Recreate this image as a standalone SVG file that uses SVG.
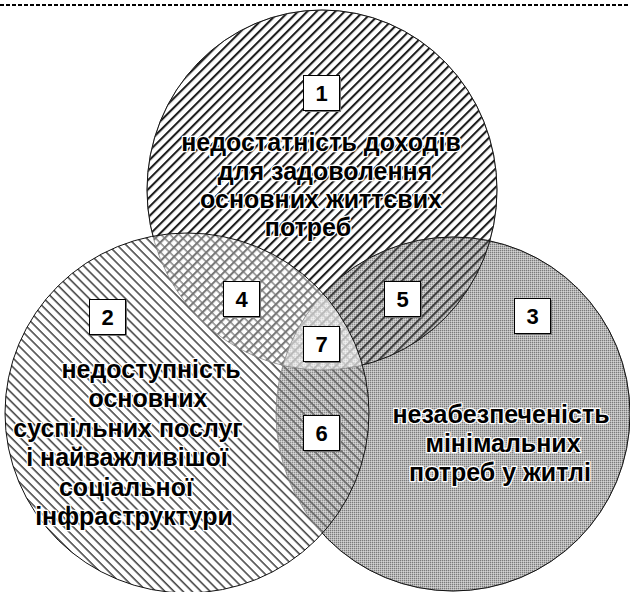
<svg xmlns="http://www.w3.org/2000/svg" width="630" height="592" viewBox="0 0 630 592">
  <defs>
    <pattern id="hatch1" patternUnits="userSpaceOnUse" width="10" height="6.6" patternTransform="rotate(-45)">
      <rect x="0" y="0" width="10" height="2.1" fill="#1e1e1e"/>
    </pattern>
    <pattern id="hatch2" patternUnits="userSpaceOnUse" width="10" height="6.4" patternTransform="rotate(45)">
      <rect x="0" y="0" width="10" height="1.6" fill="#4a4a4a"/>
    </pattern>
    <pattern id="dots3" patternUnits="userSpaceOnUse" width="2" height="2">
      <rect width="2" height="2" fill="#b6b6b6"/>
      <rect width="1" height="1" fill="#7a7a7a"/>
      <rect x="1" y="1" width="1" height="1" fill="#d2d2d2"/>
    </pattern>
    <clipPath id="c1"><ellipse cx="322" cy="190" rx="175" ry="180"/></clipPath>
    <clipPath id="c2"><ellipse cx="187" cy="413" rx="182" ry="180"/></clipPath>
    <mask id="not2" maskUnits="userSpaceOnUse" x="0" y="0" width="630" height="592">
      <rect width="630" height="592" fill="#fff"/>
      <ellipse cx="187" cy="413" rx="181" ry="179" fill="#000"/>
    </mask>
  </defs>
  <style>
    .outline { fill: none; stroke: #111; stroke-width: 1; }
    .inner { fill: none; stroke: #888; stroke-width: 0.8; }
    .box { fill: #fff; stroke: #000; stroke-width: 1; }
    .shadow { fill: #777; }
    .num { font-family: "Liberation Sans", Arial, sans-serif; font-weight: bold; font-size: 22px; text-anchor: middle; fill: #000; }
    .lbl { font-family: "Liberation Sans", Arial, sans-serif; font-weight: bold; font-size: 25px; text-anchor: middle; fill: #000; stroke: #fff; stroke-width: 2.6; stroke-linejoin: round; paint-order: stroke; }
  </style>
  <rect width="630" height="592" fill="#fff"/>
  <line x1="0" y1="5" x2="630" y2="5" stroke="#000" stroke-width="2" stroke-dasharray="4 2"/>

  <g id="circle3">
    <ellipse cx="453" cy="414" rx="177" ry="177" fill="url(#dots3)"/>
  </g>
  <g id="circle2">
    <ellipse cx="187" cy="413" rx="182" ry="180" fill="url(#hatch2)"/>
  </g>
  <g id="circle1">
    <ellipse cx="322" cy="190" rx="175" ry="180" fill="url(#hatch1)"/>
  </g>

  <g id="overlaps">
    <g clip-path="url(#c1)">
      <ellipse cx="187" cy="413" rx="182" ry="180" fill="#fff" opacity="0.4"/>
      <ellipse cx="453" cy="414" rx="177" ry="177" fill="#fff" opacity="0.15"/>
    </g>
    <g clip-path="url(#c2)">
      <ellipse cx="453" cy="414" rx="177" ry="177" fill="#fff" opacity="0.15"/>
    </g>
    <g clip-path="url(#c1)">
      <g clip-path="url(#c2)">
        <ellipse cx="453" cy="414" rx="177" ry="177" fill="#fff" opacity="0.3"/>
      </g>
    </g>
  </g>

  <g id="outlines">
    <ellipse class="inner" cx="322" cy="190" rx="175" ry="180"/>
    <ellipse class="inner" cx="453" cy="414" rx="177" ry="177"/>
    <g mask="url(#not2)">
      <ellipse class="outline" cx="322" cy="190" rx="175" ry="180"/>
      <ellipse class="outline" cx="453" cy="414" rx="177" ry="177"/>
    </g>
    <ellipse class="outline" cx="187" cy="413" rx="182" ry="180"/>
  </g>

  <g id="label1">
    <text class="lbl" x="321" y="151">недостатність доходів</text>
    <text class="lbl" x="325" y="180">для задоволення</text>
    <text class="lbl" x="321" y="208">основних життєвих</text>
    <text class="lbl" x="308" y="236">потреб</text>
  </g>
  <g id="label2">
    <text class="lbl" x="151" y="378">недоступність</text>
    <text class="lbl" x="148" y="407">основних</text>
    <text class="lbl" x="128" y="437">суспільних послуг</text>
    <text class="lbl" x="127" y="466">і найважливішої</text>
    <text class="lbl" x="126" y="496">соціальної</text>
    <text class="lbl" x="134" y="525">інфраструктури</text>
  </g>
  <g id="label3">
    <text class="lbl" x="501" y="423">незабезпеченість</text>
    <text class="lbl" x="503" y="452">мінімальних</text>
    <text class="lbl" x="500" y="481">потреб у житлі</text>
  </g>

  <g id="n1"><rect class="shadow" x="305" y="77" width="36" height="35"/><rect class="box" x="303.5" y="75.5" width="36" height="35"/><text class="num" x="321.5" y="101">1</text></g>
  <g id="n2"><rect class="shadow" x="91" y="301" width="36" height="35"/><rect class="box" x="89.5" y="299.5" width="36" height="35"/><text class="num" x="107.5" y="325">2</text></g>
  <g id="n3"><rect class="shadow" x="516" y="300" width="36" height="35"/><rect class="box" x="514.5" y="298.5" width="36" height="35"/><text class="num" x="532.5" y="324">3</text></g>
  <g id="n4"><rect class="shadow" x="225" y="283" width="36" height="35"/><rect class="box" x="223.5" y="281.5" width="36" height="35"/><text class="num" x="241.5" y="307">4</text></g>
  <g id="n5"><rect class="shadow" x="386" y="283" width="36" height="35"/><rect class="box" x="384.5" y="281.5" width="36" height="35"/><text class="num" x="402.5" y="307">5</text></g>
  <g id="n6"><rect class="shadow" x="305" y="417" width="36" height="35"/><rect class="box" x="303.5" y="415.5" width="36" height="35"/><text class="num" x="321.5" y="441">6</text></g>
  <g id="n7"><rect class="shadow" x="305" y="328" width="36" height="35"/><rect class="box" x="303.5" y="326.5" width="36" height="35"/><text class="num" x="321.5" y="352">7</text></g>
</svg>
